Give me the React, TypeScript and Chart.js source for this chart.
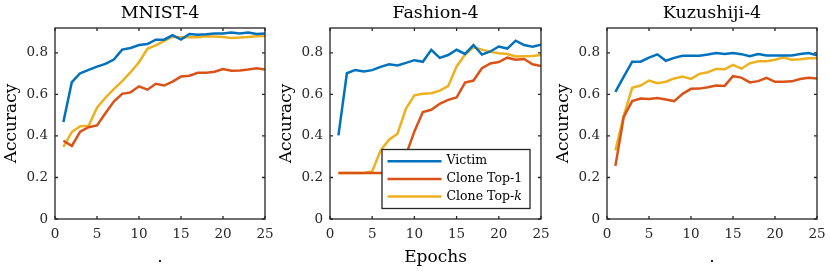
import React, { useEffect, useRef } from "react";
import { Chart, registerables } from "chart.js";

Chart.register(...registerables);

// ---------- data ----------
const EPOCHS = [1, 2, 3, 4, 5, 6, 7, 8, 9, 10, 11, 12, 13, 14, 15, 16, 17, 18, 19, 20, 21, 22, 23, 24, 25];
const X_TICKS = [0, 5, 10, 15, 20, 25];
const Y_TICKS = [0, 0.2, 0.4, 0.6, 0.8];
const SERIES_LABELS = ["Victim", "Clone Top-1", "Clone Top-k"];
const PANEL_TITLES = ["MNIST-4", "Fashion-4", "Kuzushiji-4"];
const X_TITLES = [".", "Epochs", "."];

const MNIST_VICTIM = [0.467, 0.659, 0.702, 0.718, 0.734, 0.747, 0.768, 0.816, 0.824, 0.838, 0.843, 0.864, 0.864, 0.886, 0.864, 0.891, 0.888, 0.890, 0.894, 0.894, 0.898, 0.894, 0.898, 0.891, 0.894];
const MNIST_TOP1 = [0.377, 0.352, 0.421, 0.442, 0.451, 0.509, 0.566, 0.603, 0.610, 0.639, 0.623, 0.651, 0.643, 0.662, 0.686, 0.690, 0.704, 0.704, 0.709, 0.722, 0.714, 0.715, 0.720, 0.726, 0.720];
const MNIST_TOPK = [0.347, 0.419, 0.447, 0.449, 0.536, 0.584, 0.626, 0.664, 0.707, 0.755, 0.820, 0.836, 0.858, 0.878, 0.876, 0.876, 0.876, 0.880, 0.879, 0.877, 0.872, 0.874, 0.877, 0.880, 0.881];

const FASHION_VICTIM = [0.403, 0.702, 0.718, 0.710, 0.717, 0.733, 0.745, 0.740, 0.752, 0.765, 0.757, 0.815, 0.776, 0.790, 0.815, 0.795, 0.838, 0.792, 0.807, 0.831, 0.821, 0.859, 0.838, 0.830, 0.840];
const FASHION_TOP1 = [0.222, 0.222, 0.222, 0.222, 0.222, 0.222, 0.222, 0.240, 0.308, 0.422, 0.515, 0.526, 0.555, 0.574, 0.585, 0.657, 0.667, 0.726, 0.749, 0.756, 0.777, 0.767, 0.771, 0.745, 0.737];
const FASHION_TOPK = [0.222, 0.222, 0.222, 0.222, 0.229, 0.331, 0.382, 0.411, 0.532, 0.596, 0.603, 0.606, 0.618, 0.640, 0.735, 0.792, 0.827, 0.816, 0.805, 0.798, 0.795, 0.783, 0.784, 0.785, 0.790];

const KUZU_VICTIM = [0.612, 0.686, 0.758, 0.758, 0.777, 0.793, 0.762, 0.776, 0.786, 0.786, 0.786, 0.792, 0.799, 0.795, 0.800, 0.794, 0.784, 0.795, 0.788, 0.788, 0.788, 0.788, 0.795, 0.799, 0.789];
const KUZU_TOP1 = [0.256, 0.493, 0.568, 0.580, 0.578, 0.583, 0.576, 0.568, 0.603, 0.627, 0.628, 0.635, 0.643, 0.641, 0.688, 0.681, 0.658, 0.664, 0.680, 0.661, 0.661, 0.663, 0.674, 0.680, 0.677];
const KUZU_TOPK = [0.330, 0.499, 0.632, 0.643, 0.667, 0.654, 0.661, 0.677, 0.686, 0.675, 0.699, 0.707, 0.723, 0.721, 0.742, 0.724, 0.750, 0.760, 0.760, 0.767, 0.778, 0.767, 0.770, 0.774, 0.774];

const PANEL_SERIES = [
  [MNIST_VICTIM, MNIST_TOP1, MNIST_TOPK],
  [FASHION_VICTIM, FASHION_TOP1, FASHION_TOPK],
  [KUZU_VICTIM, KUZU_TOP1, KUZU_TOPK],
];

// ---------- style ----------
const COLORS = ["#0072BD", "#D95319", "#EDB120"];
const FONT = "'DejaVu Serif', serif";
const AXIS_COLOR = "#262626";
const W = 275;
const H = 271;
const PANELS = [
  { left: 0, padRight: 10, legend: false },
  { left: 275, padRight: 9, legend: true },
  { left: 552, padRight: 10, legend: false },
];

const framePlugin = {
  id: "matlabFrame",
  afterDatasetsDraw(chart: any, _args: any, opts: any) {
    const { ctx, chartArea } = chart;
    const { left, right, top, bottom } = chartArea;
    const xs = chart.scales.x;
    const ys = chart.scales.y;
    ctx.save();
    // box
    ctx.strokeStyle = AXIS_COLOR;
    ctx.lineWidth = 1.3;
    ctx.strokeRect(left, top, right - left, bottom - top);
    // inward ticks
    const tl = 3;
    ctx.beginPath();
    X_TICKS.forEach((v) => {
      const px = xs.getPixelForValue(v);
      ctx.moveTo(px, bottom);
      ctx.lineTo(px, bottom - tl);
      ctx.moveTo(px, top);
      ctx.lineTo(px, top + tl);
    });
    Y_TICKS.forEach((v) => {
      const py = ys.getPixelForValue(v);
      ctx.moveTo(left, py);
      ctx.lineTo(left + tl, py);
      ctx.moveTo(right, py);
      ctx.lineTo(right - tl, py);
    });
    ctx.stroke();

    // title over the axes
    ctx.fillStyle = "#000";
    ctx.font = `17.5px ${FONT}`;
    ctx.textAlign = "center";
    ctx.textBaseline = "middle";
    ctx.fillText(opts.title, (left + right) / 2, 13);

    // legend
    if (opts.legend) {
      const bw = 148;
      const bh = 59;
      const bx = right - 11 - bw;
      const by = bottom - 10.5 - bh;
      ctx.fillStyle = "#fff";
      ctx.fillRect(bx, by, bw, bh);
      ctx.strokeStyle = AXIS_COLOR;
      ctx.lineWidth = 1.3;
      ctx.strokeRect(bx, by, bw, bh);
      chart.data.datasets.forEach((ds: any, i: number) => {
        const cy = by + 11.7 + i * 17.7;
        ctx.strokeStyle = ds.borderColor;
        ctx.lineWidth = 2.5;
        ctx.beginPath();
        ctx.moveTo(bx + 5.5, cy);
        ctx.lineTo(bx + 59.5, cy);
        ctx.stroke();
        ctx.fillStyle = "#000";
        ctx.textAlign = "left";
        ctx.textBaseline = "middle";
        const label: string = ds.label;
        const m = label.match(/^(.*-)(k)$/);
        const tx = bx + 64.5;
        if (m) {
          ctx.font = `12.5px ${FONT}`;
          ctx.fillText(m[1], tx, cy);
          const w = ctx.measureText(m[1]).width;
          ctx.font = `italic 12.5px ${FONT}`;
          ctx.fillText(m[2], tx + w, cy);
        } else {
          ctx.font = `12.5px ${FONT}`;
          ctx.fillText(label, tx, cy);
        }
      });
    }
    ctx.restore();
  },
};

function Panel({ index }: { index: number }) {
  const ref = useRef<HTMLCanvasElement | null>(null);
  useEffect(() => {
    const canvas = ref.current;
    if (!canvas) return;
    const p = PANELS[index];
    const series = PANEL_SERIES[index];
    const chart = new Chart(canvas, {
      type: "line",
      data: {
        datasets: SERIES_LABELS.map((label, i) => ({
          label,
          data: EPOCHS.map((e, j) => ({ x: e, y: series[i][j] })),
          borderColor: COLORS[i],
          backgroundColor: COLORS[i],
          borderWidth: 2.5,
          pointRadius: 0,
          tension: 0,
          fill: false,
        })),
      },
      options: {
        responsive: false,
        animation: false,
        devicePixelRatio: 1,
        events: [],
        layout: { padding: { top: 28, right: p.padRight, left: 0, bottom: 0 } },
        plugins: {
          legend: { display: false },
          tooltip: { enabled: false },
          title: { display: false },
          matlabFrame: { title: PANEL_TITLES[index], legend: p.legend },
        } as any,
        scales: {
          x: {
            type: "linear",
            min: 0,
            max: 25,
            afterBuildTicks: (axis: any) => {
              axis.ticks = X_TICKS.map((v) => ({ value: v }));
            },
            afterFit: (axis: any) => {
              axis.height = 52;
              axis.paddingLeft = 0;
              axis.paddingRight = 0;
            },
            grid: { display: false, drawTicks: false },
            border: { display: false },
            ticks: {
              padding: 7.5,
              autoSkip: false,
              maxRotation: 0,
              color: AXIS_COLOR,
              font: { family: FONT, size: 13.5 },
              callback: (v: any) => String(v),
            },
            title: {
              display: true,
              text: X_TITLES[index],
              color: "#000",
              font: { family: FONT, size: 17 },
              padding: { top: 0, bottom: 3.5 },
            },
          },
          y: {
            type: "linear",
            min: 0,
            max: 0.92,
            afterBuildTicks: (axis: any) => {
              axis.ticks = Y_TICKS.map((v) => ({ value: v }));
            },
            afterFit: (axis: any) => {
              axis.width = 55;
              axis.paddingTop = 0;
              axis.paddingBottom = 0;
            },
            grid: { display: false, drawTicks: false },
            border: { display: false },
            ticks: {
              padding: 7,
              color: AXIS_COLOR,
              font: { family: FONT, size: 13.5 },
              callback: (v: any) => (v === 0 ? "0" : Number(v).toFixed(1)),
            },
            title: {
              display: true,
              text: "Accuracy",
              color: "#000",
              font: { family: FONT, size: 17 },
              padding: { top: 1.8, bottom: 0 },
            },
          },
        },
      } as any,
      plugins: [framePlugin],
    });
    return () => chart.destroy();
  }, [index]);
  const p = PANELS[index];
  return (
    <canvas
      ref={ref}
      width={W}
      height={H}
      style={{ position: "absolute", left: p.left, top: 0, width: W, height: H }}
    />
  );
}

export default function App() {
  return (
    <div style={{ position: "fixed", left: 0, top: 0, width: 830, height: 271, background: "#fff", overflow: "hidden" }}>
      {PANELS.map((_, i) => (
        <Panel key={i} index={i} />
      ))}
    </div>
  );
}
